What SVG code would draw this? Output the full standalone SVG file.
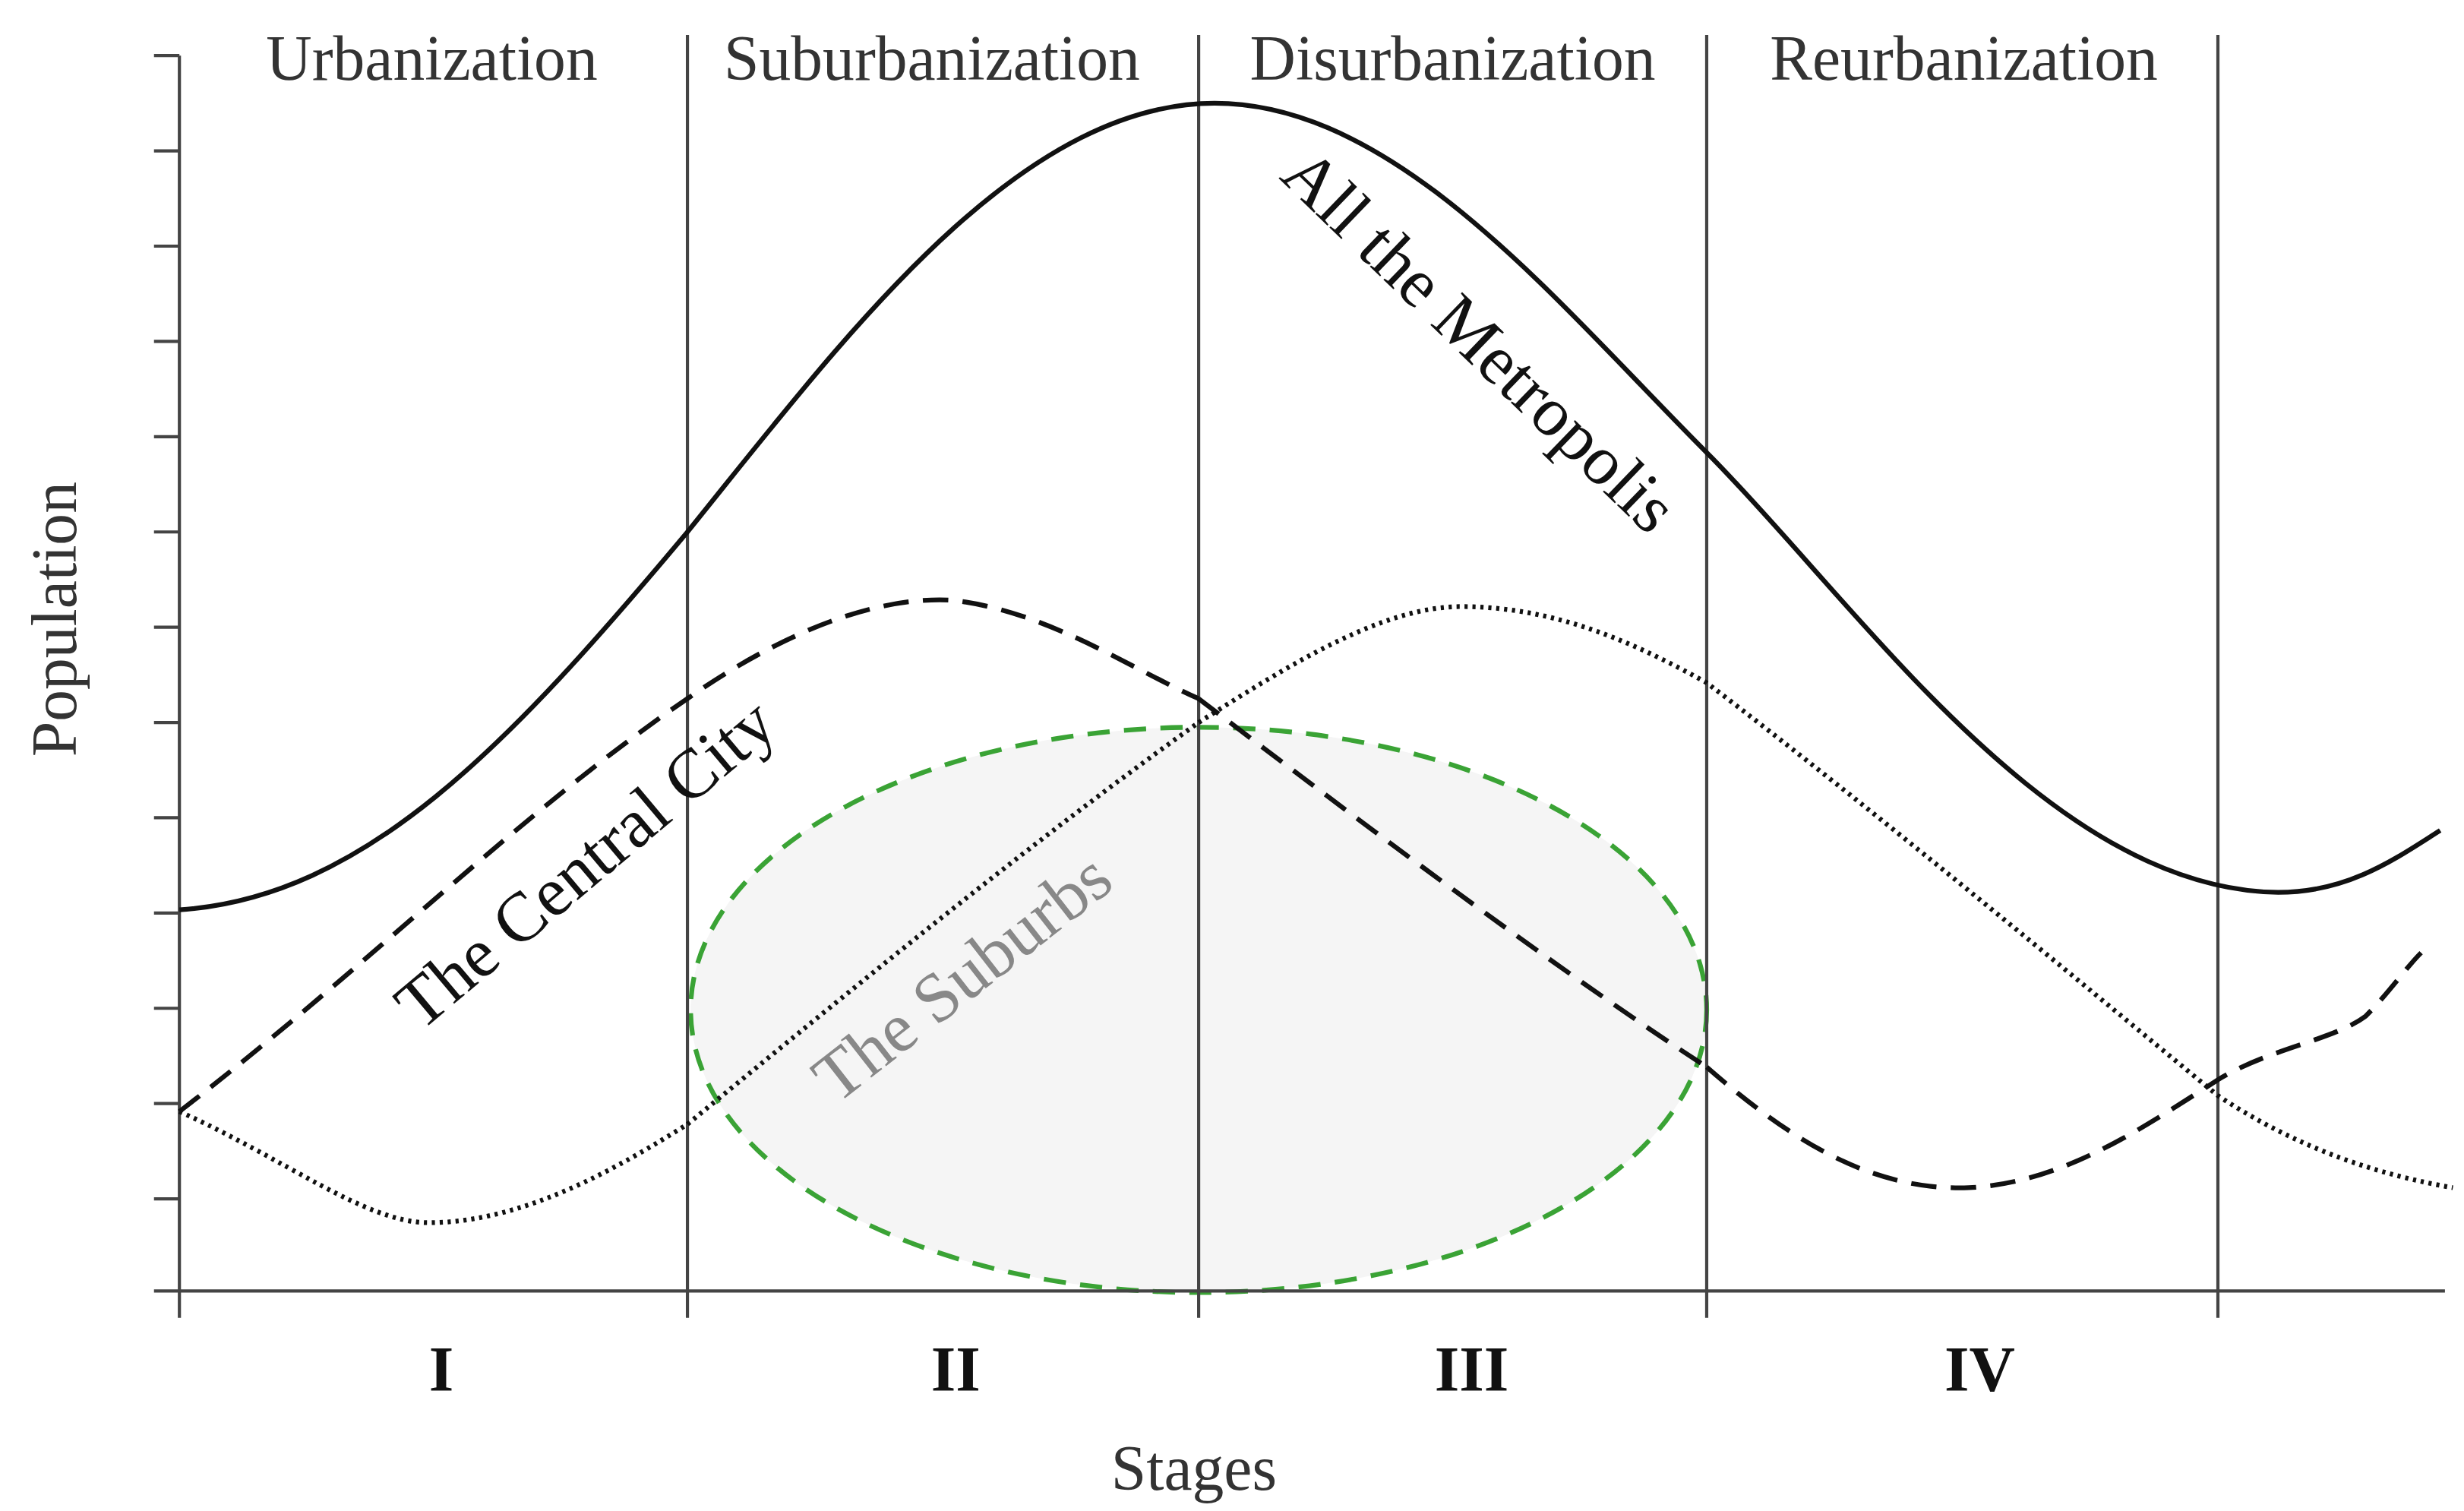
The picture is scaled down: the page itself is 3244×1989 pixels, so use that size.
<svg xmlns="http://www.w3.org/2000/svg" width="3244" height="1989" viewBox="0 0 3244 1989">
<style>
.ax{stroke:#444;stroke-width:2;fill:none}
.t{font-family:"Liberation Serif",serif;fill:#333;font-size:40px;text-anchor:middle}
.r{font-family:"Liberation Serif",serif;fill:#111;font-size:40px;font-weight:bold;text-anchor:middle}
.c{fill:none;stroke:#111;stroke-width:3}
</style>
<rect width="3244" height="1989" fill="#fff"/>
<g transform="scale(2.0902)">
<g id="ellipse"><ellipse cx="755" cy="636" rx="320" ry="178" fill="#f5f5f5" stroke="#3aa335" stroke-width="3" stroke-dasharray="14 9"/></g>
<g id="axes">
<line class="ax" x1="113" y1="35" x2="113" y2="830"/>
<line class="ax" x1="97" y1="813" x2="1540" y2="813"/>
<line class="ax" x1="433" y1="22" x2="433" y2="830"/>
<line class="ax" x1="755" y1="22" x2="755" y2="830" stroke="#888"/>
<line class="ax" x1="1075" y1="22" x2="1075" y2="830"/>
<line class="ax" x1="1397" y1="22" x2="1397" y2="830"/>
<path class="ax" d="M97,35H113M97,95H113M97,155H113M97,215H113M97,275H113M97,335H113M97,395H113M97,455H113M97,515H113M97,575H113M97,635H113M97,695H113M97,755H113"/>
</g>
<g id="connectors">
<path class="c" d="M113,573 C230,565 320,470 433,335 C530,215 640,65 765,65 C880,65 980,190 1075,285 C1170,380 1290,560 1435,562 C1480,562 1510,540 1537,523"/>
<path class="c" stroke-dasharray="16 9" d="M113,700 C230,610 330,510 433,440 C490,400 550,375 600,378 C660,385 710,420 755,440"/>
<path class="c" stroke="#888" stroke-dasharray="16 9" d="M755,440 C860,520 980,610 1075,672"/>
<path class="c" stroke-dasharray="16 9" d="M1075,672 C1130,720 1180,750 1240,748 C1300,745 1350,710 1397,680 C1430,660 1470,655 1490,640 C1505,625 1515,610 1525,600"/>
<path class="c" stroke-width="2.5" stroke-dasharray="2 3" d="M113,700 C180,730 230,770 270,770 C330,770 390,735 433,708"/>
<path class="c" stroke="#888" stroke-width="2.5" stroke-dasharray="2 3" d="M433,708 C540,620 650,530 755,455"/>
<path class="c" stroke-width="2.5" stroke-dasharray="2 3" d="M755,455 C810,420 870,382 920,382 C980,382 1030,405 1075,430 C1180,510 1300,610 1397,690 C1450,725 1500,740 1545,748"/>
</g>
<g id="labels">
<text class="t" x="272" y="50">Urbanization</text>
<text class="t" x="587" y="50">Suburbanization</text>
<text class="t" x="915" y="50">Disurbanization</text>
<text class="t" x="1237" y="50">Reurbanization</text>
<text class="r" x="278" y="876">I</text>
<text class="r" x="602" y="876">II</text>
<text class="r" x="927" y="876">III</text>
<text class="r" x="1247" y="876">IV</text>
<text class="t" x="752" y="938">Stages</text>
<text class="t" transform="translate(48,390) rotate(-90)">Population</text>
<text class="t" transform="translate(922,225) rotate(44)" style="fill:#111;font-size:44px">All the Metropolis</text>
<text class="t" transform="translate(378,555) rotate(-40)" style="fill:#111;font-size:44px">The Central City</text>
<text class="t" transform="translate(615,627) rotate(-38)" style="fill:#888;font-size:44px">The Suburbs</text>
</g>
</g>
</svg>
